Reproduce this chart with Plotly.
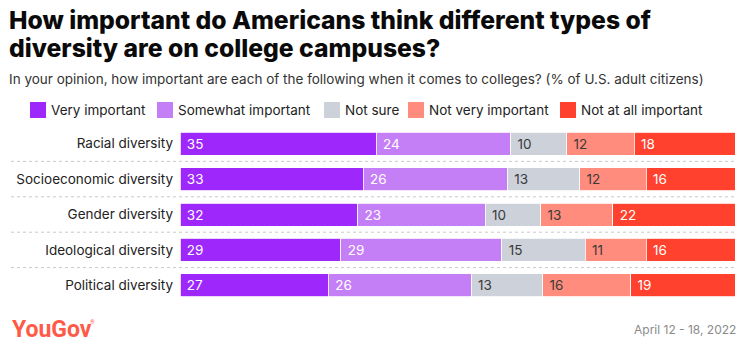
import plotly.graph_objects as go

categories = ["Racial diversity", "Socioeconomic diversity", "Gender diversity",
              "Ideological diversity", "Political diversity"]
series_names = ["Very important", "Somewhat important", "Not sure",
                "Not very important", "Not at all important"]
very_important = [35, 33, 32, 29, 27]
somewhat_important = [24, 26, 23, 29, 26]
not_sure = [10, 13, 10, 15, 13]
not_very_important = [12, 12, 13, 11, 16]
not_at_all_important = [18, 16, 22, 16, 19]

series_values = [very_important, somewhat_important, not_sure,
                 not_very_important, not_at_all_important]
colors = ["#9e28fb", "#c57ff6", "#cdd1da", "#ff8c7c", "#ff412d"]
text_colors = ["#ffffff", "#ffffff", "#3a3a3a", "#3a3a3a", "#ffffff"]

W, H = 746, 348
L, R = 180, 735
T, B = 126, 303

def px(x):
    return (x - L) / (R - L)

def py(y):
    return (B - y) / (B - T)

FONT = "Inter"

fig = go.Figure()
for name, vals, c, tc in zip(series_names, series_values, colors, text_colors):
    fig.add_trace(go.Bar(
        y=categories, x=vals, name=name, orientation="h",
        marker=dict(color=c, line=dict(color="white", width=0.8)),
        text=[f" {v}" for v in vals], textposition="inside",
        insidetextanchor="start", textangle=0,
        textfont=dict(family=FONT, size=13.5, color=tc),
        hoverinfo="skip", showlegend=False,
    ))

shapes = []
for i in range(len(categories) - 1):
    shapes.append(dict(type="line", xref="paper", yref="y",
                       x0=px(11), x1=px(735), y0=i + 0.5, y1=i + 0.5,
                       line=dict(color="#c8c8c8", width=1, dash="dot"), layer="below"))

annotations = []
# custom legend
leg_x = [30, 157, 324, 408, 560]
for name, c, lx in zip(series_names, colors, leg_x):
    shapes.append(dict(type="rect", xref="paper", yref="paper",
                       x0=px(lx), x1=px(lx + 16), y0=py(102), y1=py(118),
                       fillcolor=c, line=dict(width=0)))
    annotations.append(dict(xref="paper", yref="paper", x=px(lx + 19), y=py(110),
                            text=name, showarrow=False, xanchor="left", yanchor="middle",
                            font=dict(family=FONT, size=13.5, color="#222")))

# title & subtitle
for txt, ytop in [("How important do Americans think different types of", 3),
                  ("diversity are on college campuses?", 31)]:
    annotations.append(dict(xref="paper", yref="paper", x=px(7), y=py(ytop),
                            text=txt, showarrow=False, xanchor="left", yanchor="top",
                            font=dict(family=FONT, size=24.7, color="#0a0a0a", weight=800)))
annotations.append(dict(xref="paper", yref="paper", x=px(7), y=py(79),
                        text="In your opinion, how important are each of the following when it comes to colleges? (% of U.S. adult citizens)",
                        showarrow=False, xanchor="left", yanchor="middle",
                        font=dict(family=FONT, size=13.5, color="#333")))
# footer
annotations.append(dict(xref="paper", yref="paper", x=px(10), y=py(329),
                        text="<b>YouGov</b>", showarrow=False,
                        xanchor="left", yanchor="middle",
                        font=dict(family="Roboto", size=23, color="#ff5a48")))
annotations.append(dict(xref="paper", yref="paper", x=px(88), y=py(321),
                        text="®", showarrow=False,
                        xanchor="left", yanchor="middle",
                        font=dict(family="Roboto", size=6, color="#ff5a48")))
annotations.append(dict(xref="paper", yref="paper", x=px(738), y=py(329),
                        text="April 12 - 18, 2022", showarrow=False, xanchor="right", yanchor="middle",
                        font=dict(family=FONT, size=12, color="#8a8a8a")))

fig.update_layout(
    width=W, height=H, barmode="stack", barnorm="percent", bargap=0.35,
    margin=dict(l=L, r=W - R, t=T, b=H - B),
    paper_bgcolor="white", plot_bgcolor="white",
    xaxis=dict(range=[0, 100], visible=False, fixedrange=True),
    yaxis=dict(autorange="reversed", showgrid=False, zeroline=False, showline=False,
               ticks="", ticklabelstandoff=6,
               tickfont=dict(family=FONT, size=13.5, color="#222")),
    shapes=shapes, annotations=annotations,
    uniformtext=dict(mode=False),
)

fig.write_html("out.html")
